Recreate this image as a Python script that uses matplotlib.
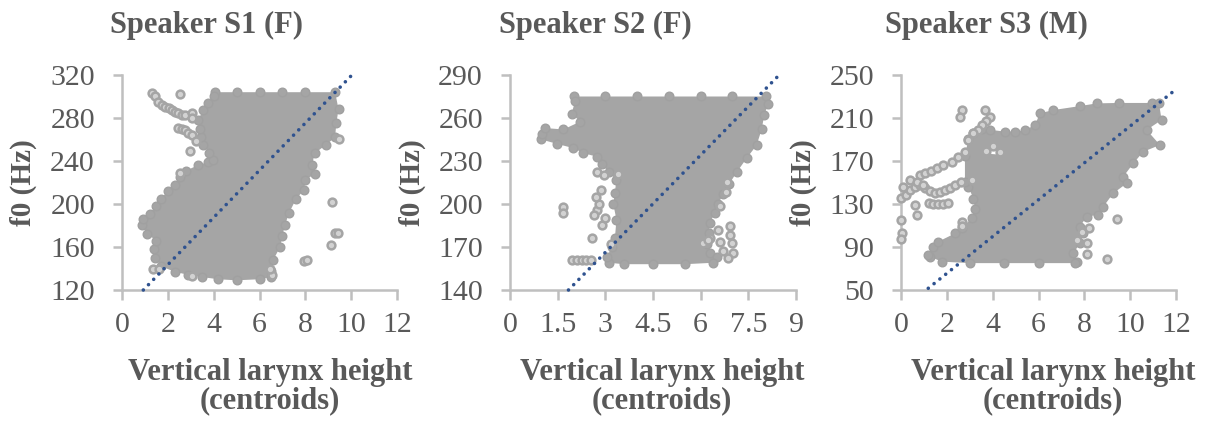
import matplotlib
matplotlib.use("Agg")
import matplotlib.pyplot as plt
from matplotlib.ticker import FixedLocator, FuncFormatter

plt.rcParams["font.family"] = ["Liberation Serif", "DejaVu Serif"]

# ---------------- data ----------------
titles = ["Speaker S1 (F)", "Speaker S2 (F)", "Speaker S3 (M)"]
xlabel_text = "Vertical larynx height\n(centroids)"
ylabel = "f0 (Hz)"

s1_xticks = [0, 2, 4, 6, 8, 10, 12]
s1_yticks = [120, 160, 200, 240, 280, 320]
s2_xticks = [0, 1.5, 3, 4.5, 6, 7.5, 9]
s2_yticks = [140, 170, 200, 230, 260, 290]
s3_xticks = [0, 2, 4, 6, 8, 10, 12]
s3_yticks = [50, 90, 130, 170, 210, 250]

# dense point cloud outlines (x = larynx height, y = f0)
s1_cloud_x = [4.06, 5.0, 6.0, 7.0, 8.0, 9.3, 9.45, 9.35, 9.3, 8.9, 8.4, 8.3, 8.4, 8.0,
              7.95, 7.6, 7.3, 7.1, 7.0, 6.9, 6.6, 6.5, 6.5, 6.0, 5.0, 4.2, 3.5, 2.9,
              2.3, 1.7, 1.45, 1.4, 1.5, 1.1, 0.86, 0.9, 1.2, 1.5, 1.7, 2.0, 2.3, 2.55,
              2.8, 3.3, 3.75, 3.95, 3.8, 3.55, 3.45, 3.4, 3.3, 3.55, 3.75, 4.0]
s1_cloud_y = [304, 304, 304, 304, 304, 304, 288, 275, 262, 255, 247, 236, 228, 222,
              213, 205, 192, 180, 170, 160, 148, 138, 132, 130, 129, 130, 132, 134,
              137, 142, 150, 158, 166, 172, 180, 186, 191, 198, 205, 212, 218, 225,
              231, 236, 239, 241, 247, 255, 262, 270, 278, 287, 294, 300]
s1_pts_x = [1.30, 1.42, 1.59, 1.75, 1.88, 2.03, 2.17, 2.32, 2.46, 2.61, 2.75, 3.04,
            3.04, 2.53, 2.46, 2.61, 2.75, 2.9, 3.04, 3.25, 2.97, 9.45, 9.18, 9.3,
            9.42, 9.13, 7.95, 8.08, 1.37, 1.6, 3.04, 6.53, 6.45, 2.55]
s1_pts_y = [303, 300, 295, 292, 290.5, 289, 287.4, 286, 284.4, 283, 282.8, 284.4,
            279.7, 302, 270.4, 269.5, 268.8, 266, 264.2, 259, 249.6, 260.5, 202, 173.3,
            173.3, 162, 147, 147.5, 139.3, 139.3, 133, 134, 140, 229]
s1_trend_x = [0.93, 10.08]
s1_trend_y = [120, 321]

s2_cloud_x = [2.0, 3.0, 4.0, 5.0, 6.0, 7.0, 8.05, 8.13, 8.0, 7.92, 7.76, 7.45, 7.13,
              6.9, 6.71, 6.55, 6.45, 6.3, 6.25, 6.2, 6.3, 6.5, 6.4, 5.5, 4.5, 3.6,
              3.1, 3.05, 3.2, 3.3, 3.35, 3.25, 3.3, 3.35, 3.1, 2.9, 2.73, 2.31, 1.99,
              1.47, 0.99, 1.0, 1.1, 1.68, 2.21, 1.94, 2.05]
s2_cloud_y = [275, 275, 275, 275, 275, 275, 275, 270, 262, 252, 241, 232, 222, 214,
              207, 200, 194, 187, 180, 172, 166, 163, 159, 158, 158, 158, 159, 163,
              170, 176, 189, 200, 208, 217, 222, 228, 233, 235.5, 239, 242, 245, 249,
              253, 252, 257.5, 263, 272]
s2_pts_x = [1.68, 1.68, 2.57, 1.94, 2.1, 2.25, 2.4, 2.55, 2.73, 2.65, 2.8, 2.7, 2.85,
            2.9, 3.0, 2.75, 2.95, 3.41, 3.17, 6.08, 6.29, 6.61, 6.92, 6.98, 7.03, 6.87,
            6.56, 6.92, 6.8, 6.61, 6.82, 6.24, 6.7]
s2_pts_y = [198, 194, 176, 161, 161, 161, 161, 161, 196, 192, 200, 205, 210, 185, 190,
            222, 220, 221, 172, 172.6, 176.1, 173.8, 178.5, 172.6, 165.6, 162.1, 182,
            184.9, 208.2, 198.9, 215.2, 174.9, 167]
s2_trend_x = [1.84, 8.47]
s2_trend_y = [140, 290]

s3_cloud_x = [6.06, 6.65, 7.81, 8.54, 9.5, 10.96, 11.26, 11.37, 10.72, 11.3, 10.57,
              10.14, 9.7, 9.85, 9.26, 8.83, 8.61, 8.1, 7.81, 7.95, 7.81, 7.52, 7.66,
              7.59, 6.0, 4.5, 3.0, 1.77, 1.27, 1.19, 1.41, 1.63, 2.36, 2.65, 3.08,
              3.23, 3.16, 2.94, 2.79, 2.79, 2.94, 3.16, 3.52, 3.9, 4.54, 4.97, 5.41, 5.85]
s3_cloud_y = [214.4, 217.4, 221.1, 223.6, 224, 224, 223.6, 208.1, 198.9, 184.9, 178.6,
              167.8, 155.4, 149.2, 139.9, 127.5, 119.8, 118.3, 108.9, 102.7, 93.4, 84.1,
              76.4, 75, 75, 75, 75, 76.4, 81, 83, 90, 95, 102.7, 107.4, 116.7, 125, 135,
              146, 150, 175, 190, 196, 200, 199, 197.3, 197.3, 198.8, 203.5]
# small gap between branches inside the S3 cloud
s3_hole_x = [3.75, 4.05, 4.4, 4.3, 3.95]
s3_hole_y = [181, 183.5, 181, 176, 176.5]
s3_pts_x = [2.65, 2.57, 3.66, 3.88, 3.7, 3.52, 3.35, 3.16, 2.94,
            0.83, 1.05, 1.3, 1.56, 1.85, 2.21, 2.5, 2.79,
            0.0, 0.2, 0.39, 0.6, 0.83, 1.05, 1.25, 1.48, 1.7, 1.92, 2.15, 2.36, 2.6, 3.08,
            0.1, 0.39, 0.68, 0.97,
            1.2, 1.4, 1.63, 1.85, 2.05,
            0.61, 0.68, 0.02, 0.05, 0.0, 2.65, 2.67, 9.44, 8.97, 8.1, 7.66, 8.1, 7.88, 8.2,
            3.7, 4.0, 4.3]
s3_pts_y = [217.4, 211.2, 217.4, 211.2, 207, 203.5, 199, 195.8, 189.5,
            157, 159, 161, 163.2, 166, 169.4, 174, 178.6,
            135.3, 138, 143, 146, 147.7, 144.6, 142, 140, 141, 143, 145, 147.7, 150, 152.3,
            146, 152.2, 150.7, 147.6,
            131, 130, 129.7, 129.7, 130.5,
            129, 119.8, 115, 103, 97, 113.6, 110, 115.7, 78.5, 83.3, 96.5, 93.4, 104.2, 108,
            179, 184, 178]
s3_trend_x = [1.19, 12.0]
s3_trend_y = [51.6, 236.7]

panels = [
    dict(cx=s1_cloud_x, cy=s1_cloud_y, px=s1_pts_x, py=s1_pts_y, tx=s1_trend_x, ty=s1_trend_y,
         xt=s1_xticks, yt=s1_yticks, hx=None, hy=None),
    dict(cx=s2_cloud_x, cy=s2_cloud_y, px=s2_pts_x, py=s2_pts_y, tx=s2_trend_x, ty=s2_trend_y,
         xt=s2_xticks, yt=s2_yticks, hx=None, hy=None),
    dict(cx=s3_cloud_x, cy=s3_cloud_y, px=s3_pts_x, py=s3_pts_y, tx=s3_trend_x, ty=s3_trend_y,
         xt=s3_xticks, yt=s3_yticks, hx=s3_hole_x, hy=s3_hole_y),
]

# ---------------- layout / style ----------------
W, H = 1212, 423
TXT = "#595959"
AXC = "#BFBFBF"
GRAY = "#A5A5A5"
BLUE = "#2F528F"

axes_px = [(122, 397), (510, 796), (901, 1176)]   # left/right pixel edges
y_top, y_bot = 75, 290
title_cx = [206, 595, 986]
xlabel_cx = [270, 662, 1053]
ylabel_cx = [23, 412, 803]

fig = plt.figure(figsize=(W / 100, H / 100), dpi=100)

for i, p in enumerate(panels):
    l, r = axes_px[i]
    ax = fig.add_axes([l / W, 1 - y_bot / H, (r - l) / W, (y_bot - y_top) / H])
    ax.set_xlim(p["xt"][0], p["xt"][-1])
    ax.set_ylim(p["yt"][0], p["yt"][-1])

    ax.fill(p["cx"], p["cy"], color=GRAY, lw=0, zorder=2)
    ax.plot(p["cx"], p["cy"], "o", ms=6.2, mfc=GRAY, mec="#A0A0A0", mew=1.0, zorder=2)
    if p["hx"] is not None:
        ax.fill(p["hx"], p["hy"], color="white", lw=0, zorder=2.5)
    ax.plot(p["px"], p["py"], "o", ms=5.6, mfc="#D2D2D2", mec=GRAY, mew=1.8,
            zorder=3, clip_on=False)
    ax.plot(p["tx"], p["ty"], color=BLUE, lw=2.6, linestyle=(0, (0.01, 2.05)),
            dash_capstyle="round", zorder=4, clip_on=False)

    for s in ("top", "right"):
        ax.spines[s].set_visible(False)
    for s in ("left", "bottom"):
        ax.spines[s].set_color(AXC)
        ax.spines[s].set_linewidth(1.8)
        ax.spines[s].set_zorder(1)
    ax.xaxis.set_major_locator(FixedLocator(p["xt"]))
    ax.yaxis.set_major_locator(FixedLocator(p["yt"]))
    ax.xaxis.set_major_formatter(FuncFormatter(lambda v, pos: f"{v:g}"))
    ax.yaxis.set_major_formatter(FuncFormatter(lambda v, pos: f"{v:g}"))
    ax.tick_params(axis="both", direction="out", color=AXC, width=1.8, labelcolor=TXT,
                   labelsize=21.5)
    ax.tick_params(axis="x", length=7, pad=9)
    ax.tick_params(axis="y", length=6.5, pad=13)

    fig.text(title_cx[i] / W, 1 - 33 / H, titles[i], ha="center", va="baseline",
             fontsize=22, fontweight="bold", color=TXT)
    fig.text(xlabel_cx[i] / W, 1 - 358 / H, xlabel_text, ha="center", va="top",
             multialignment="center", linespacing=0.95,
             fontsize=22, fontweight="bold", color=TXT)
    fig.text(ylabel_cx[i] / W, 1 - 183 / H, ylabel, ha="center", va="center",
             rotation=90, fontsize=21, fontweight="bold", color=TXT)

fig.savefig("out.png", dpi=100)
